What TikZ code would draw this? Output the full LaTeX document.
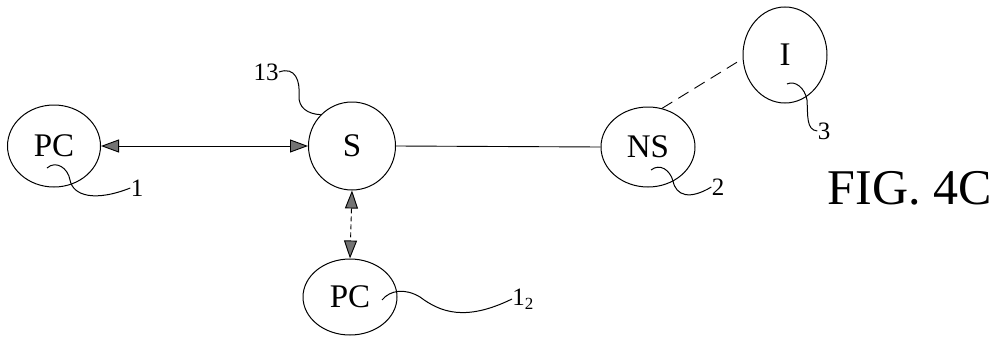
\documentclass[tikz,border=0pt]{standalone}
\usepackage{fontspec}
\setmainfont{Liberation Serif}
\usetikzlibrary{arrows.meta,shapes.geometric}
\begin{document}
\begin{tikzpicture}[x=1pt,y=-1pt,
  line width=0.9pt,
  ent/.style={draw, ellipse, inner sep=0pt, line width=1pt, font=\fontsize{33}{33}\selectfont},
  lbl/.style={inner sep=0pt, font=\fontsize{25}{25}\selectfont},
  tip/.style={{Triangle[length=18pt,width=13pt,fill=black!55]}-{Triangle[length=18pt,width=13pt,fill=black!55]}},
  lead/.style={line width=1pt}]
\useasboundingbox (0,0) rectangle (1004,340);
\node[ent, minimum width=93pt, minimum height=82pt] (pc1) at (54,146) {PC};
\node[ent, minimum width=87pt, minimum height=88pt] (s) at (352,146) {S};
\node[ent, minimum width=94pt, minimum height=80pt] (ns) at (648,147) {NS};
\node[ent, minimum width=84pt, minimum height=96pt] (i) at (785,55) {I};
\node[ent, minimum width=94pt, minimum height=76pt] (pc2) at (350,297) {PC};
\node[lbl] (l1) at (137,188) {1};
\node[lbl] (l13) at (266,72) {13};
\node[lbl] (l2) at (718,187) {2};
\node[lbl] (l3) at (824,131) {3};
\node[lbl, anchor=west] (l12) at (512,299) {1\raisebox{-0.35ex}{\fontsize{17}{17}\selectfont 2}};
\node[inner sep=0pt, anchor=base east, font=\fontsize{50}{50}\selectfont] (fig) at (992,204) {FIG. 4C};
\coordinate (c1) at (47,168);
\coordinate (c2) at (651,170);
\coordinate (c3) at (787,84);
\coordinate (c12) at (382,300);
% connectors
\draw[tip] (pc1.east) -- (s.west);
\draw[tip, dashed, dash pattern=on 5pt off 3pt] (s.south) -- (pc2.north);
\draw (s.east) -- (ns.west);
\draw[dashed, dash pattern=on 12pt off 7pt] (ns.70) -- (i.185);
% leaders
\draw[lead] (c1) .. controls (56,160) and (68,168) .. (70,180) .. controls (73,196) and (95,202) .. (l1.west);
\draw[lead] (l13.east) .. controls (296,66) and (300,82) .. (299,95) .. controls (298,108) and (308,114) .. (s.135);
\draw[lead] (c2) .. controls (660,163) and (670,170) .. (673,181) .. controls (676,196) and (690,200) .. (l2.west);
\draw[lead] (c3) .. controls (795,80) and (805,88) .. (807,100) .. controls (808,115) and (806,130) .. (l3.west);
\draw[lead] (c12) .. controls (390,290) and (405,288) .. (420,297) .. controls (440,312) and (465,322) .. (l12.west);
\end{tikzpicture}
\end{document}
